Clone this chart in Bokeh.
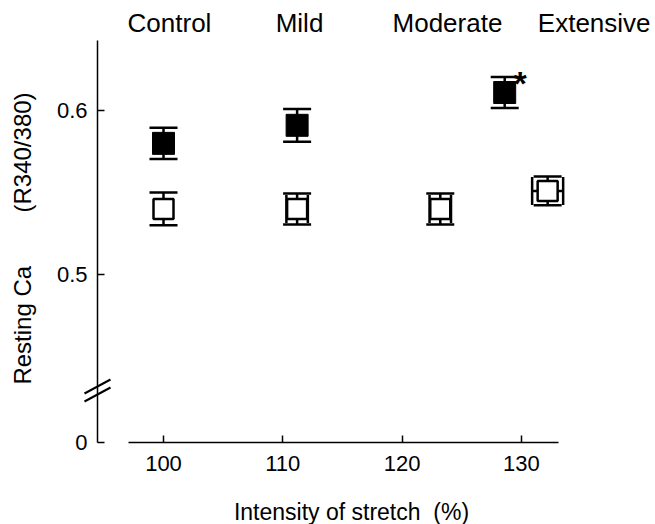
import math
from bokeh.plotting import figure
from bokeh.models import Range1d, FixedTicker, ColumnDataSource, Whisker, TeeHead, LinearAxis
from bokeh.core.properties import value
from bokeh.embed import file_html
from bokeh.resources import INLINE

# ---- data ----
groups = ["Control", "Mild", "Moderate", "Extensive"]
group_label_x = [100.5, 111.4, 123.8, 136.1]

stretch_filled = [100.0, 111.2, 128.6]
ca_filled = [0.580, 0.591, 0.611]
err_filled = [0.0095, 0.0100, 0.0095]

stretch_open = [100.0, 111.2, 123.2, 132.2]
ca_open = [0.540, 0.540, 0.540, 0.551]
err_open_y = [0.0100, 0.0095, 0.0095, 0.0088]
err_open_x = [0.0, 0.9, 0.9, 1.3]

x_ticks = [100, 110, 120, 130]
y_ticks = [0.5, 0.6]

FONT = "Liberation Sans"

# ---- layout: frame covers the whole canvas, axes placed with fixed_location ----
W, H = 655, 524
PXX = 11.93      # px per % stretch
PXY = 1640.0     # px per ratio unit
X_LEFT = 100 - 163 / PXX
Y0 = 0.3976      # position shown as "0" after the axis break (pixel row 442)
Y_TOP = Y0 + 442 / PXY

def dx(px):
    return X_LEFT + px / PXX

def dy(py):
    return Y_TOP - py / PXY

p = figure(width=W, height=H, x_range=Range1d(dx(0), dx(W)), y_range=Range1d(dy(H), dy(0)),
           output_backend="svg", toolbar_location=None,
           x_axis_location=None, y_axis_location=None, min_border=0)
p.outline_line_color = None
p.grid.visible = False
p.background_fill_color = "white"
p.border_fill_color = "white"

# y axis
ya = LinearAxis(fixed_location=dx(97))
ya.ticker = FixedTicker(ticks=[Y0] + y_ticks)
ya.major_label_overrides = {Y0: "0", 0.5: "0.5", 0.6: "0.6"}
ya.bounds = (Y0, dy(40))
ya.major_tick_in = 7
ya.major_tick_out = 0
ya.minor_tick_line_color = None
ya.major_label_standoff = 10
ya.axis_line_width = 1.5
ya.major_tick_line_width = 1.5
ya.major_label_text_font = FONT
ya.major_label_text_font_size = "22px"
ya.major_label_text_color = "black"
ya.axis_line_color = "black"
ya.major_tick_line_color = "black"
p.add_layout(ya, "left")

# x axis
xa = LinearAxis(fixed_location=Y0)
xa.ticker = FixedTicker(ticks=x_ticks)
xa.bounds = (dx(128), dx(558))
xa.major_tick_in = 7
xa.major_tick_out = 0
xa.minor_tick_line_color = None
xa.major_label_standoff = 13
xa.axis_line_width = 1.5
xa.major_tick_line_width = 1.5
xa.major_label_text_font = FONT
xa.major_label_text_font_size = "22px"
xa.major_label_text_color = "black"
xa.axis_line_color = "black"
xa.major_tick_line_color = "black"
p.add_layout(xa, "below")

# axis titles
p.text(x=[dx(351)], y=[dy(511)], text=["Intensity of stretch\u00a0\u00a0(%)"],
       text_font=value(FONT), text_font_size="23px", text_align="center",
       text_baseline="middle", text_color="black")
p.text(x=[dx(22)], y=[dy(238)], text=["Resting Ca" + "\u00a0" * 8 + "(R340/380)"], angle=math.pi / 2,
       text_font=value(FONT), text_font_size="24px", text_align="center",
       text_baseline="middle", text_color="black")

# axis break marks
p.segment(x0=[dx(84), dx(84)], y0=[dy(393), dy(401)], x1=[dx(110), dx(110)], y1=[dy(379), dy(387)],
          line_width=2, line_color="black")

# error bars
src_f = ColumnDataSource(dict(x=stretch_filled, y=ca_filled,
                              lo=[c - e for c, e in zip(ca_filled, err_filled)],
                              hi=[c + e for c, e in zip(ca_filled, err_filled)]))
src_o = ColumnDataSource(dict(x=stretch_open, y=ca_open,
                              lo=[c - e for c, e in zip(ca_open, err_open_y)],
                              hi=[c + e for c, e in zip(ca_open, err_open_y)]))
sel = [i for i, e in enumerate(err_open_x) if e > 0]
src_ox = ColumnDataSource(dict(x=[stretch_open[i] for i in sel], y=[ca_open[i] for i in sel],
                               lo=[stretch_open[i] - err_open_x[i] for i in sel],
                               hi=[stretch_open[i] + err_open_x[i] for i in sel]))

def tee(size):
    return TeeHead(size=size, line_width=2.5, line_color="black")

for src in (src_f, src_o):
    p.add_layout(Whisker(source=src, base="x", lower="lo", upper="hi", dimension="height",
                         line_width=2.5, line_color="black",
                         upper_head=tee(28), lower_head=tee(28)))
p.add_layout(Whisker(source=src_ox, base="y", lower="lo", upper="hi", dimension="width",
                     line_width=2.5, line_color="black",
                     upper_head=tee(28), lower_head=tee(28)))

# markers
p.scatter("x", "y", source=src_f, marker="square", size=22, fill_color="black",
          line_color="black", line_width=1)
p.scatter("x", "y", source=src_o, marker="square", size=20, fill_color="white",
          line_color="black", line_width=2.5)

# significance asterisk
p.text(x=[stretch_filled[2] + 1.3], y=[ca_filled[2] + 0.006], text=["*"],
       text_font=value(FONT), text_font_size="34px", text_font_style="bold",
       text_align="center", text_baseline="middle", text_color="black")

# group labels along the top
p.text(x=group_label_x, y=[dy(22)] * 4, text=groups,
       text_font=value(FONT), text_font_size="26px", text_align="center",
       text_baseline="middle", text_color="black")

open("out.html", "w").write(file_html(p, INLINE))
